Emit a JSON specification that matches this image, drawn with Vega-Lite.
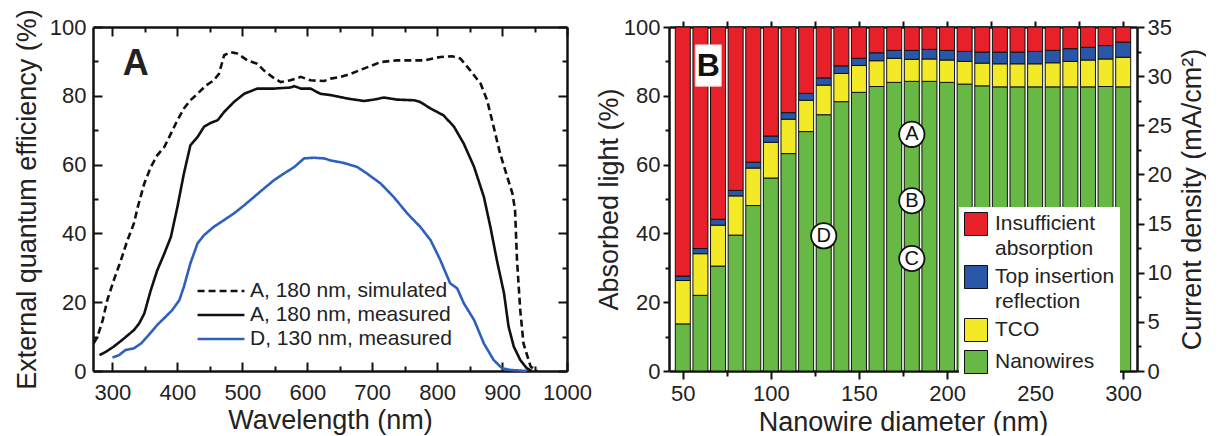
{
  "$schema": "https://vega.github.io/schema/vega-lite/v6.json",
  "background": "white",
  "padding": {"left": 13, "top": 8, "right": 0, "bottom": 0},
  "spacing": 3,
  "resolve": {"scale": {"color": "independent", "strokeDash": "independent"}, "legend": {"color": "independent", "strokeDash": "independent"}},
  "config": {
    "font": "Liberation Sans",
    "view": {"stroke": null},
    "axis": {
      "domainColor": "#111", "domainWidth": 2.5, "tickColor": "#111", "tickWidth": 2,
      "labelColor": "#222", "titleColor": "#222", "labelFontSize": 22, "titleFontSize": 27,
      "titleFontWeight": "normal", "grid": false, "labelFont": "Liberation Sans", "titleFont": "Liberation Sans",
      "labelFlush": false, "labelOverlap": false
    }
  },
  "hconcat": [
    {
      "width": 474,
      "height": 344,
      "layer": [
        {
          "data": {"values": [
            {"s":"A, 180 nm, simulated","wl":271,"eqe":8},{"s":"A, 180 nm, simulated","wl":277,"eqe":10},{"s":"A, 180 nm, simulated","wl":285,"eqe":14.8},{"s":"A, 180 nm, simulated","wl":292,"eqe":20.6},{"s":"A, 180 nm, simulated","wl":302,"eqe":26.4},{"s":"A, 180 nm, simulated","wl":313,"eqe":32.2},{"s":"A, 180 nm, simulated","wl":323,"eqe":38},{"s":"A, 180 nm, simulated","wl":333,"eqe":42.9},{"s":"A, 180 nm, simulated","wl":339,"eqe":47.7},{"s":"A, 180 nm, simulated","wl":349,"eqe":54.5},{"s":"A, 180 nm, simulated","wl":359,"eqe":59.3},{"s":"A, 180 nm, simulated","wl":369,"eqe":62.7},{"s":"A, 180 nm, simulated","wl":380,"eqe":65.2},{"s":"A, 180 nm, simulated","wl":390,"eqe":69},{"s":"A, 180 nm, simulated","wl":400,"eqe":72.9},{"s":"A, 180 nm, simulated","wl":410,"eqe":76.3},{"s":"A, 180 nm, simulated","wl":420,"eqe":78.7},{"s":"A, 180 nm, simulated","wl":431,"eqe":80.6},{"s":"A, 180 nm, simulated","wl":444,"eqe":83},{"s":"A, 180 nm, simulated","wl":456,"eqe":84.5},{"s":"A, 180 nm, simulated","wl":464,"eqe":86.4},{"s":"A, 180 nm, simulated","wl":472,"eqe":91.8},{"s":"A, 180 nm, simulated","wl":482,"eqe":92.7},{"s":"A, 180 nm, simulated","wl":492,"eqe":92.3},{"s":"A, 180 nm, simulated","wl":508,"eqe":90.3},{"s":"A, 180 nm, simulated","wl":523,"eqe":89.3},{"s":"A, 180 nm, simulated","wl":533,"eqe":87.4},{"s":"A, 180 nm, simulated","wl":546,"eqe":85.5},{"s":"A, 180 nm, simulated","wl":559,"eqe":84},{"s":"A, 180 nm, simulated","wl":574,"eqe":84.5},{"s":"A, 180 nm, simulated","wl":590,"eqe":85.5},{"s":"A, 180 nm, simulated","wl":605,"eqe":84.5},{"s":"A, 180 nm, simulated","wl":626,"eqe":84.3},{"s":"A, 180 nm, simulated","wl":636,"eqe":85},{"s":"A, 180 nm, simulated","wl":651,"eqe":85.5},{"s":"A, 180 nm, simulated","wl":667,"eqe":86.4},{"s":"A, 180 nm, simulated","wl":687,"eqe":87.9},{"s":"A, 180 nm, simulated","wl":713,"eqe":89.8},{"s":"A, 180 nm, simulated","wl":738,"eqe":90.3},{"s":"A, 180 nm, simulated","wl":764,"eqe":90.3},{"s":"A, 180 nm, simulated","wl":780,"eqe":90.3},{"s":"A, 180 nm, simulated","wl":805,"eqe":91.3},{"s":"A, 180 nm, simulated","wl":823,"eqe":91.5},{"s":"A, 180 nm, simulated","wl":836,"eqe":90.8},{"s":"A, 180 nm, simulated","wl":851,"eqe":87.4},{"s":"A, 180 nm, simulated","wl":867,"eqe":83.5},{"s":"A, 180 nm, simulated","wl":877,"eqe":78.7},{"s":"A, 180 nm, simulated","wl":887,"eqe":71},{"s":"A, 180 nm, simulated","wl":897,"eqe":63.2},{"s":"A, 180 nm, simulated","wl":908,"eqe":56.4},{"s":"A, 180 nm, simulated","wl":916,"eqe":51.6},{"s":"A, 180 nm, simulated","wl":920,"eqe":46.8},{"s":"A, 180 nm, simulated","wl":923,"eqe":32.2},{"s":"A, 180 nm, simulated","wl":928,"eqe":17.7},{"s":"A, 180 nm, simulated","wl":933,"eqe":8},{"s":"A, 180 nm, simulated","wl":944,"eqe":1.3},{"s":"A, 180 nm, simulated","wl":954,"eqe":0},
            {"s":"A, 180 nm, measured","wl":280,"eqe":4.6},{"s":"A, 180 nm, measured","wl":290,"eqe":5.6},{"s":"A, 180 nm, measured","wl":302,"eqe":7.1},{"s":"A, 180 nm, measured","wl":318,"eqe":9.5},{"s":"A, 180 nm, measured","wl":333,"eqe":11.9},{"s":"A, 180 nm, measured","wl":341,"eqe":13.8},{"s":"A, 180 nm, measured","wl":349,"eqe":16.7},{"s":"A, 180 nm, measured","wl":359,"eqe":23.5},{"s":"A, 180 nm, measured","wl":369,"eqe":29.3},{"s":"A, 180 nm, measured","wl":380,"eqe":34.2},{"s":"A, 180 nm, measured","wl":390,"eqe":39},{"s":"A, 180 nm, measured","wl":400,"eqe":47.7},{"s":"A, 180 nm, measured","wl":410,"eqe":57.4},{"s":"A, 180 nm, measured","wl":420,"eqe":65.6},{"s":"A, 180 nm, measured","wl":431,"eqe":68},{"s":"A, 180 nm, measured","wl":441,"eqe":71},{"s":"A, 180 nm, measured","wl":451,"eqe":72.1},{"s":"A, 180 nm, measured","wl":462,"eqe":72.9},{"s":"A, 180 nm, measured","wl":472,"eqe":75.3},{"s":"A, 180 nm, measured","wl":487,"eqe":78.2},{"s":"A, 180 nm, measured","wl":503,"eqe":80.6},{"s":"A, 180 nm, measured","wl":523,"eqe":82.1},{"s":"A, 180 nm, measured","wl":549,"eqe":82.1},{"s":"A, 180 nm, measured","wl":574,"eqe":82.4},{"s":"A, 180 nm, measured","wl":580,"eqe":82.8},{"s":"A, 180 nm, measured","wl":590,"eqe":82.1},{"s":"A, 180 nm, measured","wl":605,"eqe":82.1},{"s":"A, 180 nm, measured","wl":620,"eqe":80.6},{"s":"A, 180 nm, measured","wl":636,"eqe":80.2},{"s":"A, 180 nm, measured","wl":662,"eqe":79.2},{"s":"A, 180 nm, measured","wl":687,"eqe":78.5},{"s":"A, 180 nm, measured","wl":703,"eqe":78.9},{"s":"A, 180 nm, measured","wl":718,"eqe":79.5},{"s":"A, 180 nm, measured","wl":738,"eqe":78.9},{"s":"A, 180 nm, measured","wl":764,"eqe":78.7},{"s":"A, 180 nm, measured","wl":774,"eqe":78.2},{"s":"A, 180 nm, measured","wl":790,"eqe":76.3},{"s":"A, 180 nm, measured","wl":810,"eqe":74.3},{"s":"A, 180 nm, measured","wl":826,"eqe":71},{"s":"A, 180 nm, measured","wl":841,"eqe":66.1},{"s":"A, 180 nm, measured","wl":857,"eqe":59.3},{"s":"A, 180 nm, measured","wl":872,"eqe":50.6},{"s":"A, 180 nm, measured","wl":882,"eqe":41.9},{"s":"A, 180 nm, measured","wl":892,"eqe":32.2},{"s":"A, 180 nm, measured","wl":903,"eqe":22.6},{"s":"A, 180 nm, measured","wl":910,"eqe":12.9},{"s":"A, 180 nm, measured","wl":918,"eqe":7.1},{"s":"A, 180 nm, measured","wl":928,"eqe":3.2},{"s":"A, 180 nm, measured","wl":938,"eqe":0.8},{"s":"A, 180 nm, measured","wl":946,"eqe":0},
            {"s":"D, 130 nm, measured","wl":300,"eqe":3.9},{"s":"D, 130 nm, measured","wl":310,"eqe":4.6},{"s":"D, 130 nm, measured","wl":320,"eqe":6.1},{"s":"D, 130 nm, measured","wl":333,"eqe":6.6},{"s":"D, 130 nm, measured","wl":344,"eqe":8},{"s":"D, 130 nm, measured","wl":356,"eqe":10.5},{"s":"D, 130 nm, measured","wl":369,"eqe":13.4},{"s":"D, 130 nm, measured","wl":382,"eqe":15.8},{"s":"D, 130 nm, measured","wl":392,"eqe":17.7},{"s":"D, 130 nm, measured","wl":403,"eqe":20.6},{"s":"D, 130 nm, measured","wl":410,"eqe":24.5},{"s":"D, 130 nm, measured","wl":420,"eqe":31.3},{"s":"D, 130 nm, measured","wl":431,"eqe":37.1},{"s":"D, 130 nm, measured","wl":441,"eqe":39.5},{"s":"D, 130 nm, measured","wl":456,"eqe":41.9},{"s":"D, 130 nm, measured","wl":472,"eqe":43.9},{"s":"D, 130 nm, measured","wl":487,"eqe":45.8},{"s":"D, 130 nm, measured","wl":503,"eqe":48.2},{"s":"D, 130 nm, measured","wl":518,"eqe":50.6},{"s":"D, 130 nm, measured","wl":533,"eqe":53},{"s":"D, 130 nm, measured","wl":549,"eqe":55.5},{"s":"D, 130 nm, measured","wl":564,"eqe":57.4},{"s":"D, 130 nm, measured","wl":580,"eqe":59.3},{"s":"D, 130 nm, measured","wl":595,"eqe":61.8},{"s":"D, 130 nm, measured","wl":610,"eqe":62},{"s":"D, 130 nm, measured","wl":626,"eqe":61.8},{"s":"D, 130 nm, measured","wl":636,"eqe":61.2},{"s":"D, 130 nm, measured","wl":656,"eqe":60.5},{"s":"D, 130 nm, measured","wl":677,"eqe":59.3},{"s":"D, 130 nm, measured","wl":692,"eqe":57.4},{"s":"D, 130 nm, measured","wl":713,"eqe":54.5},{"s":"D, 130 nm, measured","wl":733,"eqe":50.6},{"s":"D, 130 nm, measured","wl":754,"eqe":45.8},{"s":"D, 130 nm, measured","wl":774,"eqe":41.9},{"s":"D, 130 nm, measured","wl":790,"eqe":38},{"s":"D, 130 nm, measured","wl":805,"eqe":32.2},{"s":"D, 130 nm, measured","wl":820,"eqe":25.5},{"s":"D, 130 nm, measured","wl":831,"eqe":24},{"s":"D, 130 nm, measured","wl":841,"eqe":19.7},{"s":"D, 130 nm, measured","wl":857,"eqe":14.8},{"s":"D, 130 nm, measured","wl":872,"eqe":8},{"s":"D, 130 nm, measured","wl":887,"eqe":3.2},{"s":"D, 130 nm, measured","wl":900,"eqe":0.8},{"s":"D, 130 nm, measured","wl":913,"eqe":0.3},{"s":"D, 130 nm, measured","wl":938,"eqe":0}
          ]},
          "mark": {"type": "line", "strokeWidth": 2.6},
          "encoding": {
            "x": {"field": "wl", "type": "quantitative",
              "scale": {"domain": [270, 1000], "nice": false, "zero": false},
              "axis": {"orient": "bottom", "title": "Wavelength (nm)", "format": "d",
                "values": [300,350,400,450,500,550,600,650,700,750,800,850,900,950,1000],
                "labelExpr": "datum.value % 100 === 0 ? datum.label : ''",
                "tickSize": {"condition": {"test": "datum.value % 100 === 0", "value": -9}, "value": -5},
                "labelPadding": 20, "titlePadding": 0}},
            "y": {"field": "eqe", "type": "quantitative",
              "scale": {"domain": [0, 100], "nice": false},
              "axis": {"orient": "left", "title": "External quantum efficiency (%)",
                "values": [0,10,20,30,40,50,60,70,80,90,100],
                "labelExpr": "datum.value % 20 === 0 ? datum.label : ''",
                "tickSize": {"condition": {"test": "datum.value % 20 === 0", "value": -9}, "value": -5},
                "labelPadding": 16, "titlePadding": 8}},
            "color": {"field": "s", "type": "nominal",
              "scale": {"domain": ["A, 180 nm, simulated", "A, 180 nm, measured", "D, 130 nm, measured"], "range": ["#111111", "#111111", "#2F5FBF"]},
              "legend": {"title": null, "orient": "none", "legendX": 103, "legendY": 254, "symbolType": "stroke", "symbolSize": 2200, "symbolStrokeWidth": 2.6, "labelFontSize": 21, "labelColor": "#222", "rowPadding": 3, "labelOffset": 4, "clipHeight": 20, "labelLimit": 400}},
            "strokeDash": {"field": "s", "type": "nominal",
              "scale": {"domain": ["A, 180 nm, simulated", "A, 180 nm, measured", "D, 130 nm, measured"], "range": [[7, 4], [1, 0], [1, 0]]},
              "legend": {"title": null, "orient": "none", "legendX": 103, "legendY": 254, "symbolType": "stroke", "symbolSize": 2200, "symbolStrokeWidth": 2.6, "labelFontSize": 21, "labelColor": "#222", "rowPadding": 3, "labelOffset": 4, "clipHeight": 20, "labelLimit": 400}}
          }
        },
        {
          "data": {"values": [{"wl": 336, "eqe": 89.3, "t": "A"}]},
          "mark": {"type": "text", "fontSize": 36, "fontWeight": "bold", "font": "Liberation Sans", "color": "#222", "baseline": "middle", "align": "center"},
          "encoding": {
            "x": {"field": "wl", "type": "quantitative", "axis": null},
            "y": {"field": "eqe", "type": "quantitative", "axis": null},
            "text": {"field": "t"}
          }
        },
        {
          "data": {"values": [{"wl": 300, "eqe": 0}]},
          "mark": {"type": "point", "opacity": 0},
          "encoding": {
            "x": {"field": "wl", "type": "quantitative",
              "axis": {"orient": "top", "title": null, "labels": false,
                "values": [300,350,400,450,500,550,600,650,700,750,800,850,900,950,1000],
                "tickSize": {"condition": {"test": "datum.value % 100 === 0", "value": -9}, "value": -5}}},
            "y": {"field": "eqe", "type": "quantitative",
              "axis": {"orient": "right", "title": null, "labels": false,
                "values": [0,10,20,30,40,50,60,70,80,90,100],
                "tickSize": {"condition": {"test": "datum.value % 20 === 0", "value": -9}, "value": -5}}}
          }
        }
      ],
      "resolve": {"axis": {"x": "independent", "y": "independent"}}
    },
    {
      "width": 468,
      "height": 344,
      "layer": [
        {
          "data": {"values": [
            {"d":50,"c":"Nanowires","v":13.7,"o":1},{"d":50,"c":"TCO","v":12.6,"o":2},{"d":50,"c":"Top insertion reflection","v":1.3,"o":3},{"d":50,"c":"Insufficient absorption","v":72.4,"o":4},
            {"d":60,"c":"Nanowires","v":22,"o":1},{"d":60,"c":"TCO","v":12.1,"o":2},{"d":60,"c":"Top insertion reflection","v":1.5,"o":3},{"d":60,"c":"Insufficient absorption","v":64.4,"o":4},
            {"d":70,"c":"Nanowires","v":30.5,"o":1},{"d":70,"c":"TCO","v":11.9,"o":2},{"d":70,"c":"Top insertion reflection","v":1.7,"o":3},{"d":70,"c":"Insufficient absorption","v":55.9,"o":4},
            {"d":80,"c":"Nanowires","v":39.5,"o":1},{"d":80,"c":"TCO","v":11.4,"o":2},{"d":80,"c":"Top insertion reflection","v":1.6,"o":3},{"d":80,"c":"Insufficient absorption","v":47.5,"o":4},
            {"d":90,"c":"Nanowires","v":48.1,"o":1},{"d":90,"c":"TCO","v":10.9,"o":2},{"d":90,"c":"Top insertion reflection","v":1.7,"o":3},{"d":90,"c":"Insufficient absorption","v":39.3,"o":4},
            {"d":100,"c":"Nanowires","v":56.1,"o":1},{"d":100,"c":"TCO","v":10.4,"o":2},{"d":100,"c":"Top insertion reflection","v":1.8,"o":3},{"d":100,"c":"Insufficient absorption","v":31.7,"o":4},
            {"d":110,"c":"Nanowires","v":63.2,"o":1},{"d":110,"c":"TCO","v":10,"o":2},{"d":110,"c":"Top insertion reflection","v":1.9,"o":3},{"d":110,"c":"Insufficient absorption","v":24.9,"o":4},
            {"d":120,"c":"Nanowires","v":69.6,"o":1},{"d":120,"c":"TCO","v":9.1,"o":2},{"d":120,"c":"Top insertion reflection","v":2,"o":3},{"d":120,"c":"Insufficient absorption","v":19.3,"o":4},
            {"d":130,"c":"Nanowires","v":74.5,"o":1},{"d":130,"c":"TCO","v":8.6,"o":2},{"d":130,"c":"Top insertion reflection","v":2.1,"o":3},{"d":130,"c":"Insufficient absorption","v":14.8,"o":4},
            {"d":140,"c":"Nanowires","v":78.3,"o":1},{"d":140,"c":"TCO","v":8.2,"o":2},{"d":140,"c":"Top insertion reflection","v":2.2,"o":3},{"d":140,"c":"Insufficient absorption","v":11.3,"o":4},
            {"d":150,"c":"Nanowires","v":81,"o":1},{"d":150,"c":"TCO","v":7.8,"o":2},{"d":150,"c":"Top insertion reflection","v":2.1,"o":3},{"d":150,"c":"Insufficient absorption","v":9.1,"o":4},
            {"d":160,"c":"Nanowires","v":82.7,"o":1},{"d":160,"c":"TCO","v":7.5,"o":2},{"d":160,"c":"Top insertion reflection","v":2.3,"o":3},{"d":160,"c":"Insufficient absorption","v":7.5,"o":4},
            {"d":170,"c":"Nanowires","v":83.9,"o":1},{"d":170,"c":"TCO","v":7,"o":2},{"d":170,"c":"Top insertion reflection","v":2.3,"o":3},{"d":170,"c":"Insufficient absorption","v":6.8,"o":4},
            {"d":180,"c":"Nanowires","v":84.2,"o":1},{"d":180,"c":"TCO","v":6.4,"o":2},{"d":180,"c":"Top insertion reflection","v":2.6,"o":3},{"d":180,"c":"Insufficient absorption","v":6.8,"o":4},
            {"d":190,"c":"Nanowires","v":84.2,"o":1},{"d":190,"c":"TCO","v":6.5,"o":2},{"d":190,"c":"Top insertion reflection","v":2.8,"o":3},{"d":190,"c":"Insufficient absorption","v":6.5,"o":4},
            {"d":200,"c":"Nanowires","v":83.9,"o":1},{"d":200,"c":"TCO","v":6.5,"o":2},{"d":200,"c":"Top insertion reflection","v":2.8,"o":3},{"d":200,"c":"Insufficient absorption","v":6.8,"o":4},
            {"d":210,"c":"Nanowires","v":83.4,"o":1},{"d":210,"c":"TCO","v":6.6,"o":2},{"d":210,"c":"Top insertion reflection","v":2.9,"o":3},{"d":210,"c":"Insufficient absorption","v":7.1,"o":4},
            {"d":220,"c":"Nanowires","v":82.9,"o":1},{"d":220,"c":"TCO","v":6.6,"o":2},{"d":220,"c":"Top insertion reflection","v":3.2,"o":3},{"d":220,"c":"Insufficient absorption","v":7.3,"o":4},
            {"d":230,"c":"Nanowires","v":82.6,"o":1},{"d":230,"c":"TCO","v":6.7,"o":2},{"d":230,"c":"Top insertion reflection","v":3.4,"o":3},{"d":230,"c":"Insufficient absorption","v":7.3,"o":4},
            {"d":240,"c":"Nanowires","v":82.6,"o":1},{"d":240,"c":"TCO","v":6.7,"o":2},{"d":240,"c":"Top insertion reflection","v":3.4,"o":3},{"d":240,"c":"Insufficient absorption","v":7.3,"o":4},
            {"d":250,"c":"Nanowires","v":82.6,"o":1},{"d":250,"c":"TCO","v":6.7,"o":2},{"d":250,"c":"Top insertion reflection","v":3.6,"o":3},{"d":250,"c":"Insufficient absorption","v":7.1,"o":4},
            {"d":260,"c":"Nanowires","v":82.6,"o":1},{"d":260,"c":"TCO","v":7,"o":2},{"d":260,"c":"Top insertion reflection","v":3.6,"o":3},{"d":260,"c":"Insufficient absorption","v":6.8,"o":4},
            {"d":270,"c":"Nanowires","v":82.6,"o":1},{"d":270,"c":"TCO","v":7.4,"o":2},{"d":270,"c":"Top insertion reflection","v":3.7,"o":3},{"d":270,"c":"Insufficient absorption","v":6.3,"o":4},
            {"d":280,"c":"Nanowires","v":82.6,"o":1},{"d":280,"c":"TCO","v":7.8,"o":2},{"d":280,"c":"Top insertion reflection","v":3.7,"o":3},{"d":280,"c":"Insufficient absorption","v":5.9,"o":4},
            {"d":290,"c":"Nanowires","v":82.7,"o":1},{"d":290,"c":"TCO","v":8,"o":2},{"d":290,"c":"Top insertion reflection","v":3.9,"o":3},{"d":290,"c":"Insufficient absorption","v":5.4,"o":4},
            {"d":300,"c":"Nanowires","v":82.6,"o":1},{"d":300,"c":"TCO","v":8.6,"o":2},{"d":300,"c":"Top insertion reflection","v":4.4,"o":3},{"d":300,"c":"Insufficient absorption","v":4.4,"o":4}
          ]},
          "mark": {"type": "bar", "size": 15, "stroke": "#111", "strokeWidth": 1},
          "encoding": {
            "x": {"field": "d", "type": "quantitative",
              "scale": {"domain": [45, 305], "nice": false, "zero": false},
              "axis": {"orient": "bottom", "title": "Nanowire diameter (nm)",
                "values": [50,75,100,125,150,175,200,225,250,275,300],
                "labelExpr": "datum.value % 50 === 0 ? datum.label : ''",
                "tickSize": {"condition": {"test": "datum.value % 50 === 0", "value": 8}, "value": 5},
                "labelPadding": 4, "titlePadding": 5}},
            "y": {"field": "v", "type": "quantitative", "stack": "zero",
              "scale": {"domain": [0, 100], "nice": false},
              "axis": {"orient": "left", "title": "Absorbed light (%)",
                "values": [0,10,20,30,40,50,60,70,80,90,100],
                "labelExpr": "datum.value % 20 === 0 ? datum.label : ''",
                "tickSize": {"condition": {"test": "datum.value % 20 === 0", "value": 6}, "value": 4},
                "labelPadding": 3, "titlePadding": 0}},
            "color": {"field": "c", "type": "nominal",
              "scale": {"domain": ["Insufficient absorption", "Top insertion reflection", "TCO", "Nanowires"], "range": ["#E8202A", "#2A56A8", "#F4E926", "#67B845"]},
              "legend": {"title": null, "orient": "none", "legendX": 290, "legendY": 180, "fillColor": "white", "padding": 5,
                "symbolType": "square", "symbolSize": 529, "symbolStrokeColor": "#111", "symbolStrokeWidth": 1,
                "labelFontSize": 21, "labelColor": "#222", "labelLimit": 300, "rowPadding": 4, "labelOffset": 7, "labelBaseline": "top",
                "labelExpr": "datum.label == 'Insufficient absorption' ? ['Insufficient', ' absorption'] : datum.label == 'Top insertion reflection' ? ['Top insertion', ' reflection'] : datum.label",
                "encode": {"labels": {"update": {"dy": {"value": -11}, "lineHeight": {"value": 25}}}}}},
            "order": {"field": "o", "type": "quantitative"}
          }
        },
        {
          "data": {"values": [{"x0": 57.1, "x1": 71.8, "y0": 82.8, "y1": 94.8}]},
          "mark": {"type": "rect", "fill": "white", "stroke": "#f2d6d6", "strokeWidth": 1},
          "encoding": {
            "x": {"field": "x0", "type": "quantitative", "axis": null},
            "x2": {"field": "x1"},
            "y": {"field": "y0", "type": "quantitative", "axis": null, "scale": {"domain": [0, 100], "nice": false}},
            "y2": {"field": "y1"}
          }
        },
        {
          "data": {"values": [{"d": 64.4, "pct": 88.8, "t": "B"}]},
          "mark": {"type": "text", "fontSize": 32, "fontWeight": "bold", "font": "Liberation Sans", "color": "#111", "baseline": "middle", "align": "center"},
          "encoding": {
            "x": {"field": "d", "type": "quantitative", "axis": null},
            "y": {"field": "pct", "type": "quantitative", "axis": null, "scale": {"domain": [0, 100], "nice": false}},
            "text": {"field": "t"}
          }
        },
        {
          "data": {"values": [{"d": 180, "pct": 68.8, "t": "A"}, {"d": 180, "pct": 49.5, "t": "B"}, {"d": 180, "pct": 32.7, "t": "C"}, {"d": 130, "pct": 39.3, "t": "D"}]},
          "mark": {"type": "point", "shape": "circle", "filled": true, "fill": "white", "stroke": "#111", "strokeWidth": 1.8, "size": 640, "opacity": 1},
          "encoding": {
            "x": {"field": "d", "type": "quantitative", "axis": null},
            "y": {"field": "pct", "type": "quantitative", "axis": null, "scale": {"domain": [0, 100], "nice": false}}
          }
        },
        {
          "data": {"values": [{"d": 180, "pct": 68.8, "t": "A"}, {"d": 180, "pct": 49.5, "t": "B"}, {"d": 180, "pct": 32.7, "t": "C"}, {"d": 130, "pct": 39.3, "t": "D"}]},
          "mark": {"type": "text", "fontSize": 20, "font": "Liberation Sans", "color": "#111", "baseline": "middle", "align": "center"},
          "encoding": {
            "x": {"field": "d", "type": "quantitative", "axis": null},
            "y": {"field": "pct", "type": "quantitative", "axis": null, "scale": {"domain": [0, 100], "nice": false}},
            "text": {"field": "t"}
          }
        },
        {
          "data": {"values": [{"d": 50, "j": 0}, {"d": 300, "j": 35}]},
          "mark": {"type": "point", "opacity": 0},
          "encoding": {
            "x": {"field": "d", "type": "quantitative",
              "axis": {"orient": "top", "title": null, "labels": false,
                "values": [50,75,100,125,150,175,200,225,250,275,300], "tickSize": 6}},
            "y": {"field": "j", "type": "quantitative",
              "scale": {"domain": [0, 35], "nice": false},
              "axis": {"orient": "right", "title": "Current density (mA/cm²)", "titleAngle": 270, "titleBaseline": "top",
                "values": [0,2.5,5,7.5,10,12.5,15,17.5,20,22.5,25,27.5,30,32.5,35],
                "labelExpr": "datum.value % 5 === 0 ? datum.label : ''",
                "tickSize": {"condition": {"test": "datum.value % 5 === 0", "value": 7}, "value": 4},
                "labelPadding": 3, "titlePadding": 8}}
          }
        }
      ],
      "resolve": {"scale": {"y": "independent"}, "axis": {"x": "independent", "y": "independent"}}
    }
  ]
}
